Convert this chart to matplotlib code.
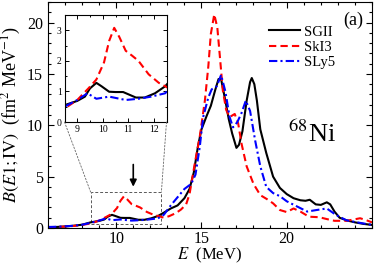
import numpy as np
import matplotlib
matplotlib.use("Agg")
import matplotlib.pyplot as plt
from matplotlib.patches import Rectangle, ConnectionPatch
from matplotlib.ticker import MultipleLocator, FixedLocator

plt.rcParams["font.family"] = ["Liberation Serif", "DejaVu Serif"]
plt.rcParams["mathtext.fontset"] = "stix"

# SGII (black, solid)
e_sgii = [6.0, 6.5, 7.0, 7.5, 8.0, 8.5, 9.0, 9.3, 9.5, 9.75, 9.95, 10.25, 10.5, 10.8,
          11.05, 11.3, 11.65, 12.05, 12.45, 12.8, 13.2, 13.6, 14.0, 14.3, 14.55, 14.8,
          15.0, 15.3, 15.55, 15.8, 16.0, 16.15, 16.4, 16.6, 16.8, 17.05, 17.2, 17.4,
          17.65, 17.85, 17.95, 18.1, 18.25, 18.45, 18.8, 19.2, 19.6, 20.0, 20.4, 20.8,
          21.1, 21.35, 21.7, 22.0, 22.35, 22.55, 22.8, 23.1, 23.5, 24.0, 24.5, 25.0]
b_sgii = [0.08, 0.1, 0.15, 0.22, 0.32, 0.55, 0.69, 0.83, 1.1, 1.28, 1.17, 0.99, 0.98, 0.98,
          0.89, 0.8, 0.8, 0.94, 1.17, 1.5, 1.9, 2.2, 2.9, 3.8, 5.4, 8.0,
          9.6, 10.9, 11.9, 13.4, 14.5, 14.5, 12.4, 10.6, 9.2, 7.8, 8.1, 9.4,
          12.4, 14.2, 14.6, 14.0, 12.4, 9.6, 7.3, 5.0, 3.9, 3.3, 2.9, 2.7,
          2.65, 2.75, 2.3, 2.25, 2.5, 2.3, 1.6, 1.0, 0.75, 0.55, 0.4, 0.3]

# SkI3 (red, dashed)
e_ski3 = [6.0, 6.5, 7.0, 7.5, 8.0, 8.5, 9.0, 9.45, 9.75, 10.05, 10.25, 10.45, 10.65, 10.9,
          11.15, 11.4, 11.8, 12.2, 12.45, 12.8, 13.1, 13.5, 13.8, 14.1, 14.3, 14.6, 14.9,
          15.2, 15.4, 15.55, 15.75, 15.93, 16.1, 16.25, 16.45, 16.65, 16.95, 17.15, 17.35,
          17.65, 18.05, 18.45, 18.85, 19.2, 19.6, 20.0, 20.4, 20.8, 21.3, 21.9, 22.4,
          22.8, 23.5, 24.0, 24.3, 24.6, 25.0]
b_ski3 = [0.08, 0.1, 0.14, 0.2, 0.3, 0.44, 0.72, 1.11, 1.39, 1.95, 2.65, 3.08, 2.78, 2.33,
          2.17, 2.0, 1.56, 1.28, 1.17, 1.0, 1.15, 1.45, 1.8, 2.3, 3.3, 6.2, 8.9,
          12.4, 15.7, 18.9, 20.8, 19.5, 16.3, 13.4, 11.5, 10.8, 11.1, 10.2, 8.2,
          6.0, 4.3, 3.2, 2.8, 2.4, 1.75, 1.55, 1.9, 1.6, 1.1, 1.05, 0.85,
          0.7, 0.7, 0.85, 0.95, 0.8, 0.55]

# SLy5 (blue, dash-dot)
e_sly5 = [6.0, 6.5, 7.0, 7.5, 8.0, 8.5, 9.0, 9.4, 9.75, 10.25, 10.9, 11.4, 11.9, 12.45,
          12.8, 13.2, 13.6, 14.0, 14.4, 14.65, 14.9, 15.1, 15.4, 15.6, 15.9, 16.15, 16.4,
          16.65, 16.85, 17.1, 17.35, 17.6, 17.85, 18.15, 18.45, 18.8, 19.2, 19.6, 20.0,
          20.6, 21.2, 21.75, 22.35, 22.9, 23.5, 24.3, 25.0]
b_sly5 = [0.1, 0.12, 0.16, 0.22, 0.32, 0.5, 0.72, 0.94, 0.76, 0.83, 0.72, 0.76, 0.83, 0.94,
          1.3, 2.2, 3.0, 3.8, 4.3, 5.2, 7.9, 10.8, 12.7, 13.5, 13.8, 14.9, 13.3,
          10.8, 9.8, 10.3, 11.2, 12.4, 11.4, 8.5, 6.0, 4.0, 3.4, 3.1, 2.6,
          2.1, 1.6, 1.75, 1.9, 1.26, 0.75, 0.5, 0.3]

labels = ["SGII", "SkI3", "SLy5"]
colors = ["black", "red", "blue"]
styles = ["-", (0, (3.5, 2)), (0, (4, 1.5, 1, 1.5))]
series = [(e_sgii, b_sgii), (e_ski3, b_ski3), (e_sly5, b_sly5)]
x_ticks = [10, 15, 20]

fig = plt.figure(figsize=(3.74, 2.65), dpi=100)
ax = fig.add_axes([48 / 374, 37 / 265, 324 / 374, 226 / 265])

for (e, b), lab, c, ls in zip(series, labels, colors, styles):
    ax.plot(e, b, color=c, ls=ls, lw=1.5, label=lab)

ax.set_xlim(6, 25)
ax.set_ylim(0, 22)
ax.xaxis.set_major_locator(FixedLocator(x_ticks))
ax.xaxis.set_minor_locator(MultipleLocator(1))
ax.yaxis.set_major_locator(MultipleLocator(5))
ax.yaxis.set_minor_locator(MultipleLocator(1))
ax.tick_params(which="both", direction="in", top=True, right=True, labelsize=11.5)
ax.tick_params(axis="x", pad=2)
ax.tick_params(which="major", length=4.5, width=0.8)
ax.tick_params(which="minor", length=2.3, width=0.8)
ax.set_xlabel(r"$E$  (MeV)", fontsize=12, labelpad=-1)
ax.set_ylabel(r"$B(E1;\mathrm{IV})$  (fm$^2$ MeV$^{-1}$)", fontsize=13, labelpad=3)

ax.legend(loc="upper left", bbox_to_anchor=(262 / 374, 1 - 18 / 265),
          bbox_transform=fig.transFigure, frameon=False, fontsize=10.5,
          borderpad=0, handlelength=2.1, handletextpad=0.3, labelspacing=0.15)

ax.text(20.05, 8.4, r"$^{68}$Ni", fontsize=19, ha="left", va="baseline")
ax.text(23.9, 20.2, "(a)", fontsize=13, ha="center", va="center")

ax.annotate("", xy=(11, 3.75), xytext=(11, 6.45),
            arrowprops=dict(arrowstyle="-|>", color="black", lw=1.2, mutation_scale=10))

ax.add_patch(Rectangle((8.5, 0.4), 4.15, 3.1, fill=False, ls=(0, (3, 2)),
                       lw=0.7, ec="0.35"))

# inset
axin = fig.add_axes([64.5 / 374, 143 / 265, 102 / 374, 107 / 265])
for (e, b), c, ls in zip(series, colors, styles):
    axin.plot(e, b, color=c, ls=ls, lw=1.5)
axin.set_xlim(8.5, 12.5)
axin.set_ylim(0, 3.5)
axin.xaxis.set_major_locator(MultipleLocator(1))
axin.xaxis.set_minor_locator(MultipleLocator(0.5))
axin.yaxis.set_major_locator(MultipleLocator(1))
axin.yaxis.set_minor_locator(MultipleLocator(0.5))
axin.tick_params(which="both", direction="in", top=True, right=True, labelsize=7, pad=2)
axin.tick_params(which="major", length=3, width=0.7)
axin.tick_params(which="minor", length=1.6, width=0.7)

for xa, xb in [((0, 0), (8.5, 3.5)), ((1, 0), (12.65, 3.5))]:
    con = ConnectionPatch(xyA=xa, coordsA=axin.transAxes, xyB=xb, coordsB=ax.transData,
                          ls=(0, (2, 2)), lw=0.6, color="0.4")
    fig.add_artist(con)

fig.savefig("out.png", dpi=100)
